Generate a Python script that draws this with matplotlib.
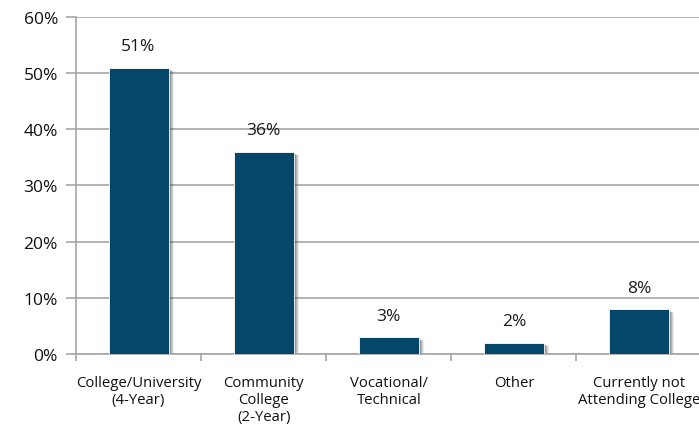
import numpy as np
import matplotlib
matplotlib.use("Agg")
import matplotlib.pyplot as plt
import matplotlib.transforms as mtransforms

categories = ["College/University\n(4-Year)", "Community\nCollege\n(2-Year)",
              "Vocational/\nTechnical", "Other", "Currently not\nAttending College"]
values = [51, 36, 3, 2, 8]
value_labels = ["51%", "36%", "3%", "2%", "8%"]
yticks = [0, 10, 20, 30, 40, 50, 60]

plt.rcParams["font.family"] = ["Open Sans", "DejaVu Sans"]

fig = plt.figure(figsize=(6.99, 4.31), dpi=100, facecolor="w")
ax = fig.add_axes([0.1087, 0.1763, 0.895, 0.782])

x = np.arange(len(categories))
bar_color = "#05476b"
width = 0.48

# soft drop shadow: a few offset bars with falling alpha
for i, (dx, dy) in enumerate([(1, -1), (2, -2), (3, -2.5), (4, -3), (5, -3.5)]):
    off = mtransforms.offset_copy(ax.transData, fig=fig, x=dx, y=dy, units="dots")
    ax.bar(x, values, width=width, color="#404040", alpha=0.3 - 0.05 * i,
           transform=off, zorder=2, linewidth=0)
ax.bar(x, values, width=width, color=bar_color, zorder=3, edgecolor="white", linewidth=0.6)

for xi, v, lab in zip(x, values, value_labels):
    ax.text(xi, v + 2.4, lab, ha="center", va="bottom", fontsize=12.5, color="#1a1a1a")

ax.set_xlim(-0.5, len(categories) - 0.5)
ax.set_ylim(0, 60)
ax.set_yticks(yticks)
ax.set_yticklabels([f"{t}%" for t in yticks], fontsize=12.5, color="#111111")
ax.yaxis.grid(True, color="#a6a6a6", linewidth=1.2, zorder=0)
ax.set_axisbelow(True)

ax.set_xticks(np.arange(len(categories) + 1) - 0.5, minor=False)
ax.set_xticklabels([])
ax.set_xticks(x, minor=True)
ax.set_xticklabels(categories, minor=True, fontsize=10.7, color="#111111", linespacing=1.2)
ax.tick_params(axis="x", which="minor", length=0, pad=15)
ax.tick_params(axis="x", which="major", length=5, color="#a6a6a6", width=1.2, direction="out")
ax.tick_params(axis="y", length=7, color="#a6a6a6", width=1.2, pad=6)

for side in ["top", "right"]:
    ax.spines[side].set_visible(False)
for side in ["left", "bottom"]:
    ax.spines[side].set_color("#a6a6a6")
    ax.spines[side].set_linewidth(1.2)

plt.savefig("out.png", dpi=100)
